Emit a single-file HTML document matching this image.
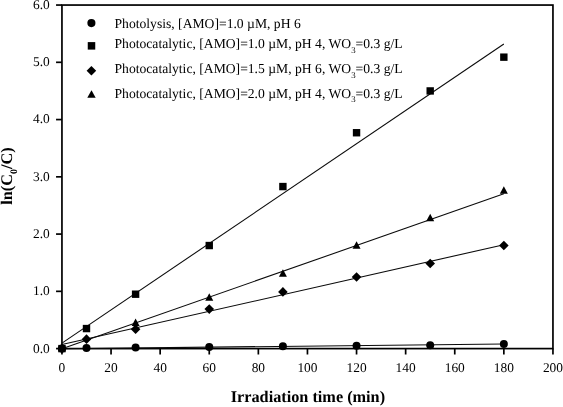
<!DOCTYPE html>
<html><head><meta charset="utf-8"><title>Chart</title>
<style>
html,body{margin:0;padding:0;background:#fff;}
svg{display:block;}
text{font-family:"Liberation Serif","DejaVu Serif",serif;fill:#000;text-rendering:geometricPrecision;}
.t{font-size:13.63px;}
.k{font-size:13.4px;}
.b{font-size:16.25px;font-weight:bold;}
</style></head><body>
<svg width="563" height="407" viewBox="0 0 563 407">
<rect width="563" height="407" fill="#fff"/>

<g stroke="#000" fill="none">
<rect x="61.95" y="5.05" width="491.00000000000006" height="343.55" stroke-width="1.7"/>
<line x1="56.050000000000004" y1="348.60" x2="61.95" y2="348.60" stroke-width="1.7"/>
<line x1="56.050000000000004" y1="291.34" x2="61.95" y2="291.34" stroke-width="1.7"/>
<line x1="56.050000000000004" y1="234.08" x2="61.95" y2="234.08" stroke-width="1.7"/>
<line x1="56.050000000000004" y1="176.83" x2="61.95" y2="176.83" stroke-width="1.7"/>
<line x1="56.050000000000004" y1="119.57" x2="61.95" y2="119.57" stroke-width="1.7"/>
<line x1="56.050000000000004" y1="62.31" x2="61.95" y2="62.31" stroke-width="1.7"/>
<line x1="56.050000000000004" y1="5.05" x2="61.95" y2="5.05" stroke-width="1.7"/>
<line x1="61.95" y1="348.6" x2="61.95" y2="354.5" stroke-width="1.7"/>
<line x1="111.05" y1="348.6" x2="111.05" y2="354.5" stroke-width="1.7"/>
<line x1="160.15" y1="348.6" x2="160.15" y2="354.5" stroke-width="1.7"/>
<line x1="209.25" y1="348.6" x2="209.25" y2="354.5" stroke-width="1.7"/>
<line x1="258.35" y1="348.6" x2="258.35" y2="354.5" stroke-width="1.7"/>
<line x1="307.45" y1="348.6" x2="307.45" y2="354.5" stroke-width="1.7"/>
<line x1="356.55" y1="348.6" x2="356.55" y2="354.5" stroke-width="1.7"/>
<line x1="405.65" y1="348.6" x2="405.65" y2="354.5" stroke-width="1.7"/>
<line x1="454.75" y1="348.6" x2="454.75" y2="354.5" stroke-width="1.7"/>
<line x1="503.85" y1="348.6" x2="503.85" y2="354.5" stroke-width="1.7"/>
<line x1="552.95" y1="348.6" x2="552.95" y2="354.5" stroke-width="1.7"/>
</g>
<text class="k" x="49.7" y="352.50" text-anchor="end">0.0</text>
<text class="k" x="49.7" y="295.24" text-anchor="end">1.0</text>
<text class="k" x="49.7" y="237.98" text-anchor="end">2.0</text>
<text class="k" x="49.7" y="180.73" text-anchor="end">3.0</text>
<text class="k" x="49.7" y="123.47" text-anchor="end">4.0</text>
<text class="k" x="49.7" y="66.21" text-anchor="end">5.0</text>
<text class="k" x="49.7" y="8.95" text-anchor="end">6.0</text>
<text class="k" x="61.95" y="372.2" text-anchor="middle">0</text>
<text class="k" x="111.05" y="372.2" text-anchor="middle">20</text>
<text class="k" x="160.15" y="372.2" text-anchor="middle">40</text>
<text class="k" x="209.25" y="372.2" text-anchor="middle">60</text>
<text class="k" x="258.35" y="372.2" text-anchor="middle">80</text>
<text class="k" x="307.45" y="372.2" text-anchor="middle">100</text>
<text class="k" x="356.55" y="372.2" text-anchor="middle">120</text>
<text class="k" x="405.65" y="372.2" text-anchor="middle">140</text>
<text class="k" x="454.75" y="372.2" text-anchor="middle">160</text>
<text class="k" x="503.85" y="372.2" text-anchor="middle">180</text>
<text class="k" x="552.95" y="372.2" text-anchor="middle">200</text>
<g stroke="#0a0a0a" stroke-width="1.08" fill="none">
<line x1="61.95" y1="343.16" x2="503.85" y2="43.99"/>
<line x1="61.95" y1="348.83" x2="503.85" y2="193.77"/>
<line x1="61.95" y1="344.59" x2="503.85" y2="244.73"/>
<line x1="61.95" y1="348.77" x2="503.85" y2="343.96"/>
</g>
<g fill="#000" stroke="none">
<circle cx="61.95" cy="348.60" r="4.0"/>
<circle cx="86.50" cy="348.03" r="4.0"/>
<circle cx="135.60" cy="347.45" r="4.0"/>
<circle cx="209.25" cy="346.88" r="4.0"/>
<circle cx="282.90" cy="346.31" r="4.0"/>
<circle cx="356.55" cy="345.74" r="4.0"/>
<circle cx="430.20" cy="345.16" r="4.0"/>
<circle cx="503.85" cy="344.02" r="4.0"/>
<rect x="58.25" y="344.90" width="7.4" height="7.4"/>
<rect x="82.80" y="324.86" width="7.4" height="7.4"/>
<rect x="131.90" y="290.50" width="7.4" height="7.4"/>
<rect x="205.55" y="241.84" width="7.4" height="7.4"/>
<rect x="279.20" y="182.86" width="7.4" height="7.4"/>
<rect x="352.85" y="129.04" width="7.4" height="7.4"/>
<rect x="426.50" y="87.24" width="7.4" height="7.4"/>
<rect x="500.15" y="53.46" width="7.4" height="7.4"/>
<polygon points="57.95,351.15 61.95,343.70 65.95,351.15"/>
<polygon points="131.60,325.96 135.60,318.51 139.60,325.96"/>
<polygon points="205.25,300.76 209.25,293.31 213.25,300.76"/>
<polygon points="278.90,276.71 282.90,269.26 286.90,276.71"/>
<polygon points="352.55,248.66 356.55,241.21 360.55,248.66"/>
<polygon points="426.20,221.17 430.20,213.72 434.20,221.17"/>
<polygon points="499.85,193.69 503.85,186.24 507.85,193.69"/>
<polygon points="57.15,348.60 61.95,343.80 66.75,348.60 61.95,353.40"/>
<polygon points="81.70,339.15 86.50,334.35 91.30,339.15 86.50,343.95"/>
<polygon points="130.80,329.13 135.60,324.33 140.40,329.13 135.60,333.93"/>
<polygon points="204.45,309.09 209.25,304.29 214.05,309.09 209.25,313.89"/>
<polygon points="278.10,291.91 282.90,287.11 287.70,291.91 282.90,296.71"/>
<polygon points="351.75,277.03 356.55,272.23 361.35,277.03 356.55,281.83"/>
<polygon points="425.40,263.57 430.20,258.77 435.00,263.57 430.20,268.37"/>
<polygon points="499.05,245.54 503.85,240.74 508.65,245.54 503.85,250.34"/>
<circle cx="91.40" cy="23.10" r="4.05"/>
<rect x="87.75" y="42.10" width="7.5" height="7.5"/>
<polygon points="86.60,70.70 91.40,65.90 96.20,70.70 91.40,75.50"/>
<polygon points="87.30,97.75 91.50,90.30 95.70,97.75"/>
</g>
<text class="t" x="114.5" y="28">Photolysis, [AMO]=1.0 µM, pH 6</text>
<text class="t" x="114.5" y="48.3">Photocatalytic, [AMO]=1.0 µM, pH 4, WO<tspan dy="4.4" font-size="8.8">3</tspan><tspan dy="-4.4">=0.3 g/L</tspan></text>
<text class="t" x="114.5" y="73.2">Photocatalytic, [AMO]=1.5 µM, pH 6, WO<tspan dy="4.4" font-size="8.8">3</tspan><tspan dy="-4.4">=0.3 g/L</tspan></text>
<text class="t" x="114.5" y="97.5">Photocatalytic, [AMO]=2.0 µM, pH 4, WO<tspan dy="4.4" font-size="8.8">3</tspan><tspan dy="-4.4">=0.3 g/L</tspan></text>
<text class="b" x="307.9" y="402.3" text-anchor="middle">Irradiation time (min)</text>
<text class="b" transform="translate(11.8,176.0) rotate(-90)" text-anchor="middle">ln(C<tspan dy="5" font-size="10">0</tspan><tspan dy="-5">/C)</tspan></text>
</svg>
</body></html>
